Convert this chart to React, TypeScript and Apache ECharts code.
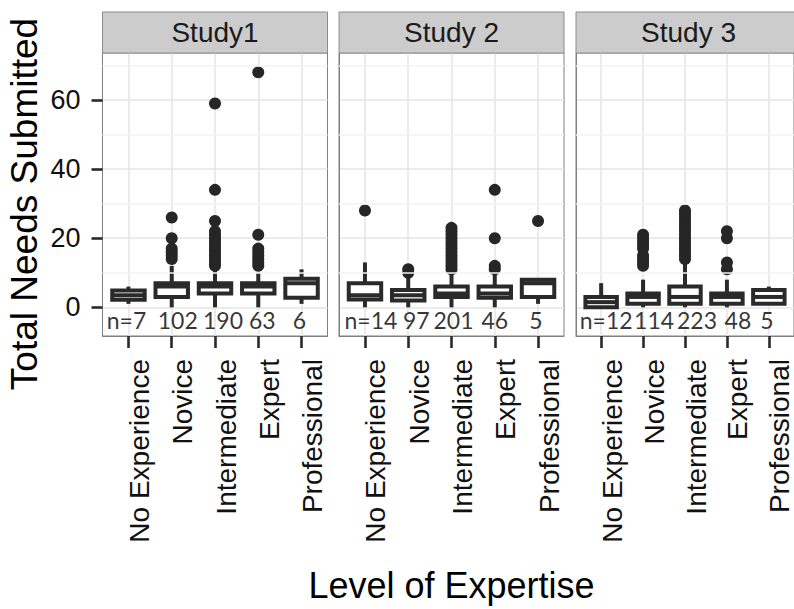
import React, { useEffect, useRef } from "react";
import * as echarts from "echarts";

// ---------- data ----------
const studies = ["Study1", "Study 2", "Study 3"];
const levels = ["No Experience", "Novice", "Intermediate", "Expert", "Professional"];

// [min whisker, Q1, median, Q3, max whisker] per level
const study1Boxes = [
  [1, 2.2, 3.5, 4.9, 6],
  [0, 3, 6, 7, 12],
  [0, 4, 6, 7, 11],
  [0, 4, 6, 7, 10],
  [1, 2.75, 7, 8.25, 11],
];
const study2Boxes = [
  [0, 2.25, 3.5, 7, 13],
  [0, 2, 3.5, 5, 9],
  [0, 3, 4, 6, 10],
  [0, 2.75, 4, 6, 10],
  [1, 3, 7, 8, 8],
];
const study3Boxes = [
  [0, 0, 1.5, 3, 7],
  [0, 1, 3, 4, 8],
  [0, 1, 3, 6, 13],
  [0, 1, 3, 4, 8],
  [1, 1, 3, 5, 6],
];

const study1Outliers = [
  [],
  [14, 15, 16, 17, 20, 26],
  [12, 13, 14, 15, 16, 17, 18, 19, 20, 21, 22, 25, 34, 59],
  [12, 13, 14, 15, 16, 17, 21, 68],
  [],
];
const study2Outliers = [
  [28],
  [10, 11],
  [11, 12, 13, 14, 15, 16, 17, 18, 19, 20, 21, 22, 23],
  [11, 12, 20, 34],
  [25],
];
const study3Outliers = [
  [],
  [12, 13, 14, 15, 17, 18, 19, 20, 21],
  [14, 15, 16, 17, 18, 19, 20, 21, 22, 23, 24, 25, 26, 27, 28],
  [11, 13, 20, 22],
  [],
];

const study1Counts = ["n=7", "102", "190", "63", "6"];
const study2Counts = ["n=14", "97", "201", "46", "5"];
const study3Counts = ["n=12", "114", "223", "48", "5"];

const yMajorTicks = [0, 20, 40, 60];
const yMinorTicks = [10, 30, 50, 70];
const yMin = -8.3;
const yMax = 73.6;
const countLabelY = -3.8;

const allBoxes = [study1Boxes, study2Boxes, study3Boxes];
const allOutliers = [study1Outliers, study2Outliers, study3Outliers];
const allCounts = [study1Counts, study2Counts, study3Counts];

// ---------- layout / style ----------
const W = 794;
const H = 609;
const panelLeft = [102.5, 339, 576];
const panelWidth = 225;
const panelTop = 53;
const panelBottom = 336;
const stripTop = 12;
// horizontal nudges (px) of the count labels, as set in the original figure
const countLabelNudge = [
  [-2, 6, 8, 4, -2],
  [6, 8, 2, 0, -2],
  [5, 11, 12, 11, -2],
];
const FONT = "'Liberation Sans', Arial, sans-serif";
const INK = "#2a2a2a";
const BORDER = "#7f7f7f";

export default function App() {
  const ref = useRef<HTMLDivElement>(null);

  useEffect(() => {
    if (!ref.current) return;
    const chart = echarts.init(ref.current, undefined, { renderer: "svg" });

    const positions = levels.map((_, i) => i + 1);

    const grid = panelLeft.map((l) => ({
      left: l,
      top: panelTop,
      width: panelWidth,
      height: panelBottom - panelTop,
      show: true,
      backgroundColor: "#ffffff",
      borderColor: BORDER,
      borderWidth: 1,
    }));

    const xAxis = panelLeft.map((_, p) => ({
      gridIndex: p,
      type: "value",
      position: "bottom",
      min: 0.4,
      max: 5.6,
      axisLine: { show: true, onZero: false, lineStyle: { color: BORDER, width: 1 } },
      axisTick: {
        show: true,
        inside: false,
        customValues: positions,
        length: 12,
        lineStyle: { color: INK, width: 2.6 },
      },
      axisLabel: {
        show: true,
        customValues: positions,
        formatter: (v: number) => levels[Math.round(v) - 1] ?? "",
        rotate: 90,
        margin: 23,
        fontSize: 28,
        fontFamily: FONT,
        color: "#111111",
        verticalAlign: "top",
        lineHeight: 22,
      },
      splitLine: { show: true, lineStyle: { color: "#e4e4e4", width: 1.5 } },
      name: p === 1 ? "Level of Expertise" : "",
      nameLocation: "middle",
      nameGap: 231,
      nameTextStyle: { fontSize: 36, fontFamily: FONT, color: "#000000" },
    }));

    const yAxis = panelLeft.map((_, p) => ({
      gridIndex: p,
      type: "value",
      position: "left",
      min: yMin,
      max: yMax,
      axisLine: { show: true, onZero: false, lineStyle: { color: BORDER, width: 1 } },
      axisTick: {
        show: p === 0,
        inside: false,
        customValues: yMajorTicks,
        length: 11,
        lineStyle: { color: INK, width: 2.6 },
      },
      axisLabel: {
        show: p === 0,
        customValues: yMajorTicks,
        margin: 22,
        fontSize: 27,
        fontFamily: FONT,
        color: "#111111",
      },
      splitLine: { show: true, lineStyle: { color: "#e4e4e4", width: 1.5 } },
      name: p === 0 ? "Total Needs Submitted" : "",
      nameLocation: "middle",
      nameGap: 60,
      nameRotate: 90,
      nameTextStyle: {
        fontSize: 37,
        fontFamily: FONT,
        color: "#000000",
        padding: [0, 19, 0, 0],
      },
    }));

    const series: any[] = [];
    panelLeft.forEach((_, p) => {
      // minor grid lines + count labels
      series.push({
        type: "scatter",
        xAxisIndex: p,
        yAxisIndex: p,
        z: 1,
        symbolSize: 0,
        silent: true,
        data: allCounts[p].map((c, i) => ({
          value: [positions[i], countLabelY, c],
          label: { offset: [countLabelNudge[p][i], 0] },
        })),
        label: {
          show: true,
          position: "inside",
          formatter: (d: any) => d.value[2],
          fontFamily: "Lato, 'Open Sans', sans-serif",
          fontSize: 23,
          color: "#000000",
        },
        markLine: {
          silent: true,
          symbol: ["none", "none"],
          label: { show: false },
          lineStyle: { color: "#f3f3f3", width: 1.5, type: "solid" },
          data: yMinorTicks.map((v) => ({ yAxis: v })),
        },
      });
      // boxes
      series.push({
        type: "custom",
        xAxisIndex: p,
        yAxisIndex: p,
        z: 3,
        data: allBoxes[p].map((b, i) => [positions[i], ...b]),
        encode: { x: 0, y: [1, 2, 3, 4, 5] },
        renderItem: (params: any, api: any) => {
          const x = api.value(0);
          const lo = api.coord([x, api.value(1)]);
          const q1 = api.coord([x, api.value(2)]);
          const med = api.coord([x, api.value(3)]);
          const q3 = api.coord([x, api.value(4)]);
          const hi = api.coord([x, api.value(5)]);
          const half = api.size([0.75, 0])[0] / 2;
          const lineStyle = { stroke: INK, lineWidth: 4, fill: null };
          return {
            type: "group",
            children: [
              { type: "line", shape: { x1: lo[0], y1: lo[1], x2: q1[0], y2: q1[1] }, style: lineStyle },
              { type: "line", shape: { x1: q3[0], y1: q3[1], x2: hi[0], y2: hi[1] }, style: lineStyle },
              {
                type: "rect",
                shape: { x: q3[0] - half, y: q3[1], width: half * 2, height: q1[1] - q3[1] },
                style: { fill: "#ffffff", stroke: INK, lineWidth: 4 },
              },
              {
                type: "line",
                shape: { x1: med[0] - half, y1: med[1], x2: med[0] + half, y2: med[1] },
                style: lineStyle,
              },
            ],
          };
        },
      });
      // outliers
      const pts: number[][] = [];
      allOutliers[p].forEach((vals, i) => vals.forEach((v) => pts.push([positions[i], v])));
      series.push({
        type: "scatter",
        xAxisIndex: p,
        yAxisIndex: p,
        z: 4,
        symbol: "circle",
        symbolSize: 12,
        itemStyle: { color: "#262626", opacity: 1 },
        data: pts,
      });
    });

    const graphic: any[] = [];
    studies.forEach((s, p) => {
      graphic.push({
        type: "rect",
        shape: { x: panelLeft[p], y: stripTop, width: panelWidth, height: panelTop - stripTop },
        style: { fill: "#cccccc", stroke: "#8c8c8c", lineWidth: 1 },
        z: 10,
      });
      graphic.push({
        type: "text",
        x: panelLeft[p] + panelWidth / 2,
        y: (stripTop + panelTop) / 2,
        style: {
          text: s,
          fontSize: 28,
          fontFamily: FONT,
          fill: "#1a1a1a",
          align: "center",
          verticalAlign: "middle",
        },
        z: 11,
      });
    });

    chart.setOption({
      animation: false,
      backgroundColor: "#ffffff",
      grid,
      xAxis,
      yAxis,
      series,
      graphic,
    });

    return () => chart.dispose();
  }, []);

  return (
    <div
      ref={ref}
      style={{ position: "fixed", left: 0, top: 0, width: W, height: H }}
    />
  );
}
